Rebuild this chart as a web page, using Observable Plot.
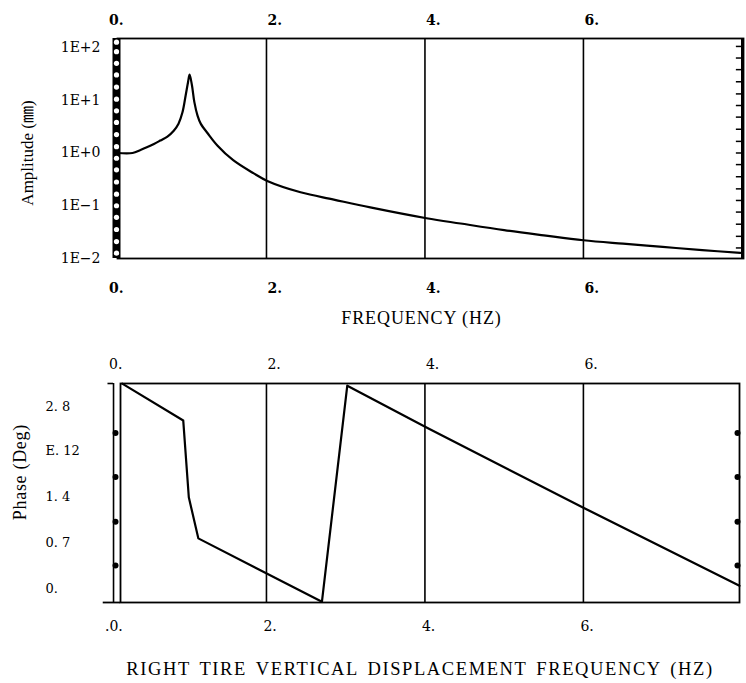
<!DOCTYPE html>
<html><head><meta charset="utf-8">
<script src="https://cdn.jsdelivr.net/npm/d3@7"></script>
<script src="https://cdn.jsdelivr.net/npm/@observablehq/plot@0.6"></script>
<style>
body{margin:0;background:#fff;}
#wrap{position:relative;width:746px;height:683px;overflow:hidden;background:#fff;}
#top{position:absolute;left:0;top:0;}
#bot{position:absolute;left:0;top:335px;}
</style></head><body><div id="wrap"><div id="top"></div><div id="bot"></div></div>
<script>
// ---- data ----
const ampFreq  = [0.12, 0.31, 0.41, 0.49, 0.58, 0.66, 0.75, 0.83, 0.89, 0.94, 0.98, 1.01, 1.03, 1.06, 1.09, 1.13, 1.17, 1.26, 1.38, 1.58, 1.84, 2.01, 2.43, 2.85, 3.31, 4.02, 4.45, 5.0, 5.5, 6.0, 6.5, 7.0, 7.5, 7.98];
const ampValue = [1.0, 1.0, 1.14, 1.28, 1.48, 1.72, 2.05, 2.65, 3.6, 5.9, 12.3, 22, 30.5, 19, 9.2, 5.1, 3.6, 2.34, 1.39, 0.73, 0.41, 0.295, 0.18, 0.131, 0.093, 0.058, 0.046, 0.0345, 0.0275, 0.0222, 0.0191, 0.0166, 0.0144, 0.0128];
const phaseFreq  = [0.18, 0.95, 1.02, 1.14, 2.70, 3.02, 4.02, 6.0, 7.97];
const phaseValue = [3.14, 2.61, 1.51, 0.92, 0.01, 3.11, 2.51, 1.36, 0.24];
const gridFreq = [2, 4, 6];
const xTickValues = [0, 2, 4, 6];
const xTickLabels = ["0.", "2.", "4.", "6."];
const phaseBottomXLabels = [".0.", "2.", "4.", "6."];
const ampTicks = [100, 10, 1, 0.1, 0.01];
const ampTickLabels = ["1E+2", "1E+1", "1E+0", "1E\u22121", "1E\u22122"];
const phaseLabelPos = [2.8, 2.18, 1.51, 0.85, 0.2];
const phaseTickLabels = ["2. 8", "E. 12", "1. 4", "0. 7", "0."];
const phaseMarkerPos = [2.43, 1.8, 1.16, 0.53];
const ampBandExp = [-1.9, -1.68, -1.45, -1.22, -1.0, -0.78, -0.55, -0.32, -0.1, 0.12, 0.35, 0.58, 0.8, 1.02, 1.25, 1.48, 1.7, 1.92, 2.1];
const ampRightTickExp = [-1.8, -1.58, -1.35, -1.12, -0.9, -0.68, -0.45, -0.22, 0.0, 0.22, 0.45, 0.68, 0.9, 1.12, 1.35, 1.58, 1.8, 2.02];
const topTitle = "FREQUENCY (HZ)";
const ampTitle = "Amplitude (\u339C)";
const bottomTitle = "RIGHT TIRE VERTICAL DISPLACEMENT FREQUENCY (HZ)";
const phaseTitle = "Phase (Deg)";

const serif = "'Liberation Serif','Times New Roman','Noto Sans CJK SC',serif";
const numFont = "'DejaVu Serif','Liberation Serif',serif";

const ampData = ampFreq.map((f, i) => ({f, a: ampValue[i]}));
const phaseData = phaseFreq.map((f, i) => ({f, p: phaseValue[i]}));

const topChart = Plot.plot({
  width: 746, height: 340,
  marginLeft: 117, marginRight: 3, marginTop: 38, marginBottom: 82,
  x: {domain: [0.12, 8.02], axis: null},
  y: {type: "log", domain: [0.01, 148], axis: null},
  style: {background: "white", color: "black"},
  marks: [
    Plot.ruleX(gridFreq, {stroke: "black", strokeWidth: 1.6}),
    Plot.frame({stroke: "black", strokeWidth: 1.8}),
    Plot.ruleX([0.12], {stroke: "black", strokeWidth: 8, dx: -1}),
    Plot.dot(ampBandExp, {x: () => 0.12, y: d => Math.pow(10, d), r: 2.6, fill: "white", stroke: null, dx: -1}),
    Plot.ruleX([8.02], {stroke: "black", strokeWidth: 3, dx: -1}),
    Plot.ruleY(ampRightTickExp, {y: d => Math.pow(10, d), x1: 7.93, x2: 8.02, stroke: "black", strokeWidth: 1.5}),
    Plot.line(ampData, {x: "f", y: "a", stroke: "black", strokeWidth: 2.2, curve: "catmull-rom"}),
    Plot.text(ampTicks, {y: d => d, text: (d, i) => ampTickLabels[i], frameAnchor: "left", dx: -17, textAnchor: "end", fontSize: 14, fontFamily: numFont, fill: "black"}),
    Plot.text(xTickValues, {x: d => d, text: (d, i) => xTickLabels[i], frameAnchor: "top", dy: -23, dx: 1, textAnchor: "start", fontSize: 14, fontFamily: numFont, fontWeight: "bold", fill: "black"}),
    Plot.text(xTickValues, {x: d => d, text: (d, i) => xTickLabels[i], frameAnchor: "bottom", dy: 34, dx: 1, textAnchor: "start", fontSize: 14, fontFamily: numFont, fontWeight: "bold", fill: "black"}),
    Plot.text([topTitle], {frameAnchor: "bottom", dy: 65, dx: -9, textAnchor: "middle", fontSize: 18, fontFamily: serif, fill: "black"}),
    Plot.text([ampTitle], {y: () => 1.0, frameAnchor: "left", dx: -90, rotate: -90, textAnchor: "middle", fontSize: 17, fontFamily: serif, fill: "black"})
  ]
});
document.getElementById("top").appendChild(topChart);

const botChart = Plot.plot({
  width: 746, height: 348,
  marginLeft: 120, marginRight: 7, marginTop: 48, marginBottom: 81,
  x: {domain: [0.158, 7.97], axis: null},
  y: {domain: [0, Math.PI], axis: null},
  style: {background: "white", color: "black"},
  marks: [
    Plot.ruleX(gridFreq, {stroke: "black", strokeWidth: 1.6}),
    Plot.frame({stroke: "black", strokeWidth: 1.8}),
    Plot.ruleX([0.07], {y1: 0, y2: Math.PI, stroke: "black", strokeWidth: 1.6}),
    Plot.ruleY([Math.PI], {x1: 0.0, x2: 0.07, stroke: "black", strokeWidth: 1.6}),
    Plot.ruleY([0], {x1: -0.06, x2: 0.158, stroke: "black", strokeWidth: 1.8}),
    Plot.dot(phaseMarkerPos, {x: () => 0.07, y: d => d, r: 3, fill: "black", stroke: null, dx: 2}),
    Plot.dot(phaseMarkerPos, {x: () => 7.97, y: d => d, r: 3, fill: "black", stroke: null, dx: -2}),
    Plot.line(phaseData, {x: "f", y: "p", stroke: "black", strokeWidth: 2.2}),
    Plot.text(phaseLabelPos, {y: d => d, text: (d, i) => phaseTickLabels[i], frameAnchor: "left", dx: -75, textAnchor: "start", fontSize: 13, fontFamily: numFont, fill: "black"}),
    Plot.text(xTickValues, {x: d => d, text: (d, i) => xTickLabels[i], frameAnchor: "top", dy: -24, dx: 1, textAnchor: "start", fontSize: 14, fontFamily: numFont, fill: "black"}),
    Plot.text(xTickValues, {x: d => d, text: (d, i) => phaseBottomXLabels[i], frameAnchor: "bottom", dy: 28, dx: -3, textAnchor: "start", fontSize: 14, fontFamily: numFont, fill: "black"}),
    Plot.text([bottomTitle], {frameAnchor: "bottom", dy: 72, dx: -10, textAnchor: "middle", fontSize: 18.5, fontFamily: serif, fill: "black"}),
    Plot.text([phaseTitle], {y: () => 1.87, frameAnchor: "left", dx: -100, rotate: -90, textAnchor: "middle", fontSize: 18, fontFamily: serif, fill: "black"})
  ]
});
document.getElementById("bot").appendChild(botChart);

// letter spacing for the titles (as in the scanned figure)
function spaceText(chart, str, ls, ws) {
  d3.select(chart).selectAll("text").filter(function () { return this.textContent === str; })
    .attr("letter-spacing", ls).attr("word-spacing", ws);
}
spaceText(topChart, topTitle, "0.9px", "0px");
spaceText(botChart, bottomTitle, "1.6px", "3px");
spaceText(botChart, phaseTitle, "0.7px", "0px");
</script>
</body></html>
